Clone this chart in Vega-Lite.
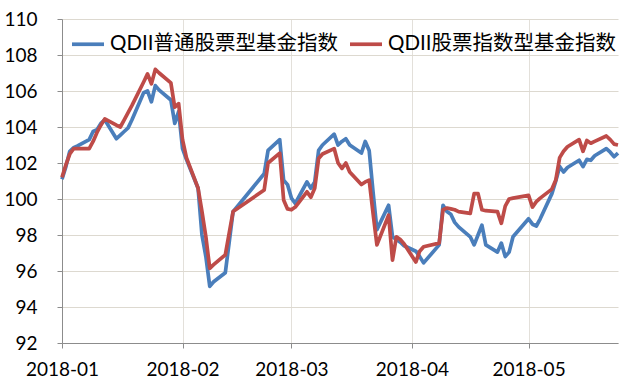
{
  "$schema": "https://vega.github.io/schema/vega-lite/v6.json",
  "width": 556,
  "height": 324,
  "autosize": "none",
  "padding": {"left": 62, "top": 19, "right": 22, "bottom": 43},
  "background": "white",
  "config": {"view": {"stroke": null}, "font": "Lato"},
  "data": {"values": [
    {"date":"2018-01-01","QDII普通股票型基金指数":101.1,"QDII股票指数型基金指数":101.2},
    {"date":"2018-01-02","QDII普通股票型基金指数":101.8,"QDII股票指数型基金指数":101.9},
    {"date":"2018-01-03","QDII普通股票型基金指数":102.65,"QDII股票指数型基金指数":102.5},
    {"date":"2018-01-04","QDII普通股票型基金指数":102.85,"QDII股票指数型基金指数":102.8},
    {"date":"2018-01-05","QDII普通股票型基金指数":102.95,"QDII股票指数型基金指数":102.8},
    {"date":"2018-01-08","QDII普通股票型基金指数":103.3,"QDII股票指数型基金指数":102.8},
    {"date":"2018-01-09","QDII普通股票型基金指数":103.75,"QDII股票指数型基金指数":103.2},
    {"date":"2018-01-10","QDII普通股票型基金指数":103.85,"QDII股票指数型基金指数":103.7},
    {"date":"2018-01-11","QDII普通股票型基金指数":104.2,"QDII股票指数型基金指数":104.1},
    {"date":"2018-01-12","QDII普通股票型基金指数":104.4,"QDII股票指数型基金指数":104.45},
    {"date":"2018-01-15","QDII普通股票型基金指数":103.35,"QDII股票指数型基金指数":104.1},
    {"date":"2018-01-16","QDII普通股票型基金指数":103.55,"QDII股票指数型基金指数":104.0},
    {"date":"2018-01-17","QDII普通股票型基金指数":103.75,"QDII股票指数型基金指数":104.4},
    {"date":"2018-01-18","QDII普通股票型基金指数":103.95,"QDII股票指数型基金指数":104.8},
    {"date":"2018-01-19","QDII普通股票型基金指数":104.4,"QDII股票指数型基金指数":105.2},
    {"date":"2018-01-22","QDII普通股票型基金指数":105.9,"QDII股票指数型基金指数":106.5},
    {"date":"2018-01-23","QDII普通股票型基金指数":106.0,"QDII股票指数型基金指数":106.95},
    {"date":"2018-01-24","QDII普通股票型基金指数":105.4,"QDII股票指数型基金指数":106.4},
    {"date":"2018-01-25","QDII普通股票型基金指数":106.3,"QDII股票指数型基金指数":107.2},
    {"date":"2018-01-26","QDII普通股票型基金指数":106.05,"QDII股票指数型基金指数":107.0},
    {"date":"2018-01-29","QDII普通股票型基金指数":105.5,"QDII股票指数型基金指数":106.45},
    {"date":"2018-01-30","QDII普通股票型基金指数":104.2,"QDII股票指数型基金指数":105.1},
    {"date":"2018-01-31","QDII普通股票型基金指数":104.85,"QDII股票指数型基金指数":105.3},
    {"date":"2018-02-01","QDII普通股票型基金指数":102.8,"QDII股票指数型基金指数":103.3},
    {"date":"2018-02-02","QDII普通股票型基金指数":102.2,"QDII股票指数型基金指数":102.3},
    {"date":"2018-02-05","QDII普通股票型基金指数":100.6,"QDII股票指数型基金指数":100.6},
    {"date":"2018-02-06","QDII普通股票型基金指数":98.0,"QDII股票指数型基金指数":99.3},
    {"date":"2018-02-07","QDII普通股票型基金指数":96.8,"QDII股票指数型基金指数":97.9},
    {"date":"2018-02-08","QDII普通股票型基金指数":95.15,"QDII股票指数型基金指数":96.15},
    {"date":"2018-02-09","QDII普通股票型基金指数":95.4,"QDII股票指数型基金指数":96.35},
    {"date":"2018-02-12","QDII普通股票型基金指数":95.9,"QDII股票指数型基金指数":96.9},
    {"date":"2018-02-13","QDII普通股票型基金指数":97.6,"QDII股票指数型基金指数":98.1},
    {"date":"2018-02-14","QDII普通股票型基金指数":99.3,"QDII股票指数型基金指数":99.3},
    {"date":"2018-02-22","QDII普通股票型基金指数":101.4,"QDII股票指数型基金指数":100.5},
    {"date":"2018-02-23","QDII普通股票型基金指数":102.7,"QDII股票指数型基金指数":102.0},
    {"date":"2018-02-26","QDII普通股票型基金指数":103.3,"QDII股票指数型基金指数":102.55},
    {"date":"2018-02-27","QDII普通股票型基金指数":101.05,"QDII股票指数型基金指数":99.95},
    {"date":"2018-02-28","QDII普通股票型基金指数":100.8,"QDII股票指数型基金指数":99.45},
    {"date":"2018-03-01","QDII普通股票型基金指数":100.05,"QDII股票指数型基金指数":99.4},
    {"date":"2018-03-02","QDII普通股票型基金指数":99.75,"QDII股票指数型基金指数":99.55},
    {"date":"2018-03-05","QDII普通股票型基金指数":100.95,"QDII股票指数型基金指数":100.4},
    {"date":"2018-03-06","QDII普通股票型基金指数":100.6,"QDII股票指数型基金指数":100.1},
    {"date":"2018-03-07","QDII普通股票型基金指数":100.95,"QDII股票指数型基金指数":100.6},
    {"date":"2018-03-08","QDII普通股票型基金指数":102.7,"QDII股票指数型基金指数":102.25},
    {"date":"2018-03-09","QDII普通股票型基金指数":103.0,"QDII股票指数型基金指数":102.5},
    {"date":"2018-03-12","QDII普通股票型基金指数":103.6,"QDII股票指数型基金指数":102.8},
    {"date":"2018-03-13","QDII普通股票型基金指数":103.0,"QDII股票指数型基金指数":102.0},
    {"date":"2018-03-14","QDII普通股票型基金指数":103.2,"QDII股票指数型基金指数":101.7},
    {"date":"2018-03-15","QDII普通股票型基金指数":103.35,"QDII股票指数型基金指数":102.0},
    {"date":"2018-03-16","QDII普通股票型基金指数":103.0,"QDII股票指数型基金指数":101.5},
    {"date":"2018-03-19","QDII普通股票型基金指数":102.55,"QDII股票指数型基金指数":100.8},
    {"date":"2018-03-20","QDII普通股票型基金指数":103.2,"QDII股票指数型基金指数":100.95},
    {"date":"2018-03-21","QDII普通股票型基金指数":102.7,"QDII股票指数型基金指数":101.05},
    {"date":"2018-03-22","QDII普通股票型基金指数":100.4,"QDII股票指数型基金指数":99.2},
    {"date":"2018-03-23","QDII普通股票型基金指数":98.3,"QDII股票指数型基金指数":97.45},
    {"date":"2018-03-26","QDII普通股票型基金指数":99.65,"QDII股票指数型基金指数":99.1},
    {"date":"2018-03-27","QDII普通股票型基金指数":97.9,"QDII股票指数型基金指数":96.6},
    {"date":"2018-03-28","QDII普通股票型基金指数":97.75,"QDII股票指数型基金指数":97.9},
    {"date":"2018-03-29","QDII普通股票型基金指数":97.6,"QDII股票指数型基金指数":97.75},
    {"date":"2018-03-30","QDII普通股票型基金指数":97.4,"QDII股票指数型基金指数":97.5},
    {"date":"2018-04-02","QDII普通股票型基金指数":97.1,"QDII股票指数型基金指数":96.5},
    {"date":"2018-04-03","QDII普通股票型基金指数":96.8,"QDII股票指数型基金指数":97.1},
    {"date":"2018-04-04","QDII普通股票型基金指数":96.45,"QDII股票指数型基金指数":97.35},
    {"date":"2018-04-08","QDII普通股票型基金指数":97.45,"QDII股票指数型基金指数":97.55},
    {"date":"2018-04-09","QDII普通股票型基金指数":99.65,"QDII股票指数型基金指数":99.4},
    {"date":"2018-04-10","QDII普通股票型基金指数":99.3,"QDII股票指数型基金指数":99.5},
    {"date":"2018-04-11","QDII普通股票型基金指数":99.15,"QDII股票指数型基金指数":99.45},
    {"date":"2018-04-12","QDII普通股票型基金指数":98.7,"QDII股票指数型基金指数":99.4},
    {"date":"2018-04-13","QDII普通股票型基金指数":98.45,"QDII股票指数型基金指数":99.3},
    {"date":"2018-04-16","QDII普通股票型基金指数":97.9,"QDII股票指数型基金指数":99.2},
    {"date":"2018-04-17","QDII普通股票型基金指数":97.45,"QDII股票指数型基金指数":100.3},
    {"date":"2018-04-18","QDII普通股票型基金指数":98.0,"QDII股票指数型基金指数":100.3},
    {"date":"2018-04-19","QDII普通股票型基金指数":98.55,"QDII股票指数型基金指数":99.4},
    {"date":"2018-04-20","QDII普通股票型基金指数":97.45,"QDII股票指数型基金指数":99.35},
    {"date":"2018-04-23","QDII普通股票型基金指数":97.05,"QDII股票指数型基金指数":99.3},
    {"date":"2018-04-24","QDII普通股票型基金指数":97.55,"QDII股票指数型基金指数":98.65},
    {"date":"2018-04-25","QDII普通股票型基金指数":96.8,"QDII股票指数型基金指数":99.6},
    {"date":"2018-04-26","QDII普通股票型基金指数":97.05,"QDII股票指数型基金指数":100.0},
    {"date":"2018-04-27","QDII普通股票型基金指数":97.9,"QDII股票指数型基金指数":100.05},
    {"date":"2018-05-01","QDII普通股票型基金指数":98.9,"QDII股票指数型基金指数":100.2},
    {"date":"2018-05-02","QDII普通股票型基金指数":98.6,"QDII股票指数型基金指数":99.55},
    {"date":"2018-05-03","QDII普通股票型基金指数":98.5,"QDII股票指数型基金指数":99.85},
    {"date":"2018-05-04","QDII普通股票型基金指数":98.9,"QDII股票指数型基金指数":100.05},
    {"date":"2018-05-07","QDII普通股票型基金指数":100.3,"QDII股票指数型基金指数":100.55},
    {"date":"2018-05-08","QDII普通股票型基金指数":101.0,"QDII股票指数型基金指数":101.05},
    {"date":"2018-05-09","QDII普通股票型基金指数":101.8,"QDII股票指数型基金指数":102.3},
    {"date":"2018-05-10","QDII普通股票型基金指数":101.5,"QDII股票指数型基金指数":102.65},
    {"date":"2018-05-11","QDII普通股票型基金指数":101.75,"QDII股票指数型基金指数":102.9},
    {"date":"2018-05-14","QDII普通股票型基金指数":102.15,"QDII股票指数型基金指数":103.3},
    {"date":"2018-05-15","QDII普通股票型基金指数":101.8,"QDII股票指数型基金指数":102.65},
    {"date":"2018-05-16","QDII普通股票型基金指数":102.2,"QDII股票指数型基金指数":103.25},
    {"date":"2018-05-17","QDII普通股票型基金指数":102.15,"QDII股票指数型基金指数":103.1},
    {"date":"2018-05-18","QDII普通股票型基金指数":102.4,"QDII股票指数型基金指数":103.2},
    {"date":"2018-05-21","QDII普通股票型基金指数":102.8,"QDII股票指数型基金指数":103.5},
    {"date":"2018-05-22","QDII普通股票型基金指数":102.6,"QDII股票指数型基金指数":103.3},
    {"date":"2018-05-23","QDII普通股票型基金指数":102.35,"QDII股票指数型基金指数":103.05},
    {"date":"2018-05-24","QDII普通股票型基金指数":102.55,"QDII股票指数型基金指数":103.0}
  ]},
  "transform": [
    {"fold": ["QDII普通股票型基金指数", "QDII股票指数型基金指数"], "as": ["series", "value"]}
  ],
  "mark": {"type": "line", "strokeWidth": 3.7, "strokeJoin": "round"},
  "encoding": {
    "x": {
      "field": "date",
      "type": "temporal",
      "scale": {
        "type": "utc",
        "domain": [
          {"year": 2018, "month": 1, "date": 1, "utc": true},
          {"year": 2018, "month": 5, "date": 24, "utc": true}
        ]
      },
      "axis": {
        "title": null,
        "values": [
          {"year": 2018, "month": 1, "date": 1, "utc": true},
          {"year": 2018, "month": 2, "date": 1, "utc": true},
          {"year": 2018, "month": 3, "date": 1, "utc": true},
          {"year": 2018, "month": 4, "date": 1, "utc": true},
          {"year": 2018, "month": 5, "date": 1, "utc": true}
        ],
        "format": "%Y-%m",
        "labelFontSize": 19,
        "labelColor": "#000000",
        "labelPadding": 12,
        "labelFlush": false,
        "labelOverlap": false,
        "tickSize": 5,
        "tickColor": "#8c8c8c",
        "domainColor": "#8c8c8c",
        "grid": true,
        "gridColor": "#e3e0da"
      }
    },
    "y": {
      "field": "value",
      "type": "quantitative",
      "scale": {"domain": [92, 110], "nice": false, "zero": false},
      "axis": {
        "title": null,
        "values": [92, 94, 96, 98, 100, 102, 104, 106, 108, 110],
        "labelFontSize": 19,
        "labelColor": "#000000",
        "labelPadding": 20,
        "tickSize": 5,
        "tickColor": "#8c8c8c",
        "domainColor": "#8c8c8c",
        "grid": true,
        "gridColor": "#ddd9d0"
      }
    },
    "color": {
      "field": "series",
      "type": "nominal",
      "scale": {
        "domain": ["QDII普通股票型基金指数", "QDII股票指数型基金指数"],
        "range": ["#4A7EBB", "#BE4B48"]
      },
      "legend": {
        "title": null,
        "orient": "none",
        "legendX": 8,
        "legendY": 7,
        "direction": "horizontal",
        "symbolType": "stroke",
        "symbolSize": 1024,
        "symbolStrokeWidth": 3.7,
        "labelFont": "Lato, Noto Sans CJK SC",
        "labelFontSize": 20.5,
        "labelColor": "#000000",
        "labelLimit": 400,
        "labelOffset": 4,
        "columnPadding": 4
      }
    }
  }
}
